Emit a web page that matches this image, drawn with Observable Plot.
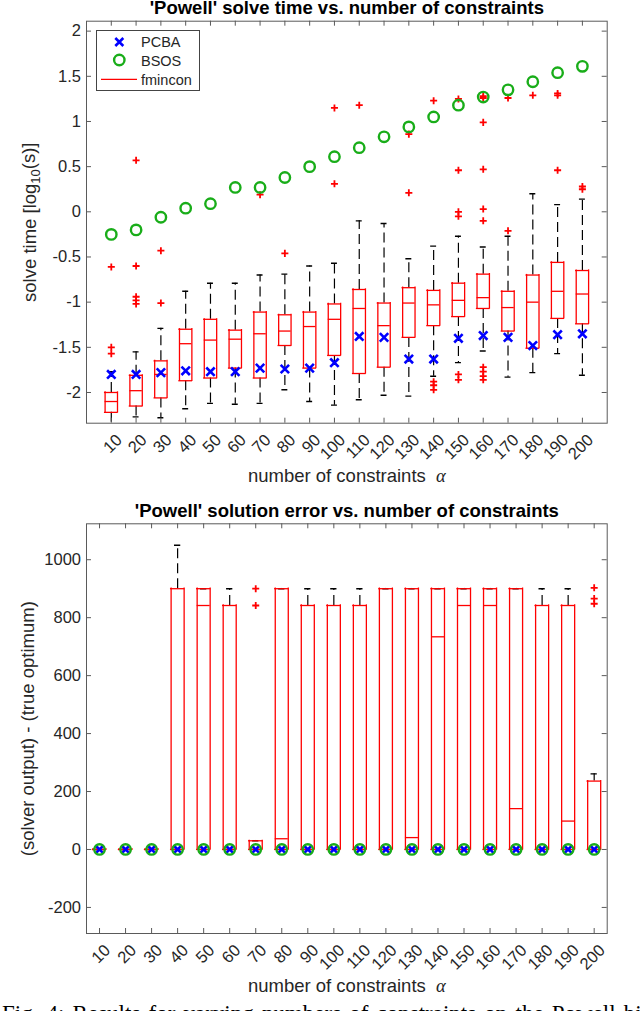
<!DOCTYPE html>
<html><head><meta charset="utf-8">
<script src="https://cdn.jsdelivr.net/npm/d3@7"></script>
<script src="https://cdn.jsdelivr.net/npm/@observablehq/plot@0.6"></script>
<style>
html,body{margin:0;padding:0;background:#fff;}
#page{position:relative;width:640px;height:1011px;overflow:hidden;font-family:"Liberation Sans",Arial,sans-serif;background:#fff;}
#page svg{display:block;}
#caption{position:absolute;left:2px;top:1002px;font-family:"Liberation Serif","Times New Roman",serif;font-size:23px;line-height:23px;white-space:nowrap;color:#000;word-spacing:2.4px;}
</style></head><body><div id="page"></div>
<script>
// ---------- shared categories ----------
const categories = [10,20,30,40,50,60,70,80,90,100,110,120,130,140,150,160,170,180,190,200];

// ---------- top chart: solve time [log10(s)] ----------
const timeLowWhisker  = [-2.40,-2.27,-2.28,-2.18,-2.12,-2.13,-2.12,-1.97,-2.10,-2.14,-2.08,-2.03,-2.04,-1.82,-1.67,-1.54,-1.83,-1.78,-1.57,-1.81];
const timeQ1          = [-2.22,-2.15,-2.06,-1.87,-1.84,-1.73,-1.84,-1.48,-1.73,-1.59,-1.79,-1.72,-1.39,-1.26,-1.16,-1.07,-1.32,-1.51,-1.18,-1.24];
const timeMedian      = [-2.10,-1.98,-1.80,-1.46,-1.42,-1.41,-1.35,-1.32,-1.27,-1.19,-1.07,-1.26,-1.01,-1.03,-0.98,-0.95,-1.06,-1.00,-0.88,-0.91];
const timeQ3          = [-2.00,-1.81,-1.65,-1.30,-1.19,-1.31,-1.11,-1.14,-1.11,-1.02,-0.86,-1.01,-0.84,-0.87,-0.79,-0.69,-0.88,-0.70,-0.56,-0.65];
const timeHighWhisker = [-1.77,-1.55,-1.29,-0.88,-0.79,-0.79,-0.70,-0.69,-0.60,-0.57,-0.10,-0.13,-0.52,-0.38,-0.27,-0.39,-0.27,0.20,0.08,0.14];
const timeOutliers = [
  [-0.61,-1.50,-1.57],
  [0.57,-0.60,-0.94,-0.98,-1.02],
  [-0.43,-1.01],
  [], [], [],
  [0.19],
  [-0.46],
  [],
  [1.15,0.31],
  [1.18],
  [],
  [0.86,0.21],
  [1.23,-1.88,-1.92,-1.97],
  [1.25,0.46,0.00,-0.05,-1.80,-1.86],
  [1.26,1.28,0.99,0.47,0.03,-0.10,-1.72,-1.77,-1.82,-1.86],
  [1.26,-0.21],
  [1.29],
  [1.31,1.29,0.46],
  [0.28,0.25]
];
const timePCBA = [-1.80,-1.80,-1.78,-1.76,-1.77,-1.77,-1.73,-1.74,-1.73,-1.67,-1.38,-1.39,-1.63,-1.63,-1.40,-1.37,-1.39,-1.48,-1.36,-1.35];
const timeBSOS = [-0.25,-0.20,-0.06,0.04,0.09,0.27,0.27,0.38,0.50,0.61,0.71,0.83,0.94,1.05,1.18,1.27,1.35,1.44,1.54,1.61];
const timeYTicks = [-2,-1.5,-1,-0.5,0,0.5,1,1.5,2];

// ---------- bottom chart: solution error ----------
const errLowWhisker  = [0,0,0,0,0,0,0,0,0,0,0,0,0,0,0,0,0,0,0,0];
const errQ1          = [0,0,0,0,0,0,0,0,0,0,0,0,0,0,0,0,0,0,0,0];
const errMedian      = [0,0,0,0,842,0,0,37,0,0,0,0,41,734,842,842,141,0,98,0];
const errQ3          = [0,0,0,900,900,842,30,900,842,842,842,900,900,900,900,900,900,842,842,236];
const errHighWhisker = [0,0,0,1050,900,900,30,900,900,900,900,900,900,900,900,900,900,900,900,261];
const errOutliers = [[],[],[],[],[],[],[900,842],[],[],[],[],[],[],[],[],[],[],[],[],[903,866,848]];
const errPCBA = [0,0,0,0,0,0,0,0,0,0,0,0,0,0,0,0,0,0,0,0];
const errBSOS = [0,0,0,0,0,0,0,0,0,0,0,0,0,0,0,0,0,0,0,0];
const errYTicks = [-200,0,200,400,600,800,1000];

// ---------- styling ----------
const W = 640, ML = 86, MR = 33.3;
const RED = "#ff0000", BLUE = "#0000ff", GREEN = "#19ad19", AX = "#5a5a5a", TXT = "#262626";
const BOX = 0.25, CAP = 0.12;

function chart(o) {
  const plotW = W - ML - MR, plotH = o.height - o.marginTop - o.marginBottom;
  const rows = categories.map((c, i) => ({pos: i + 1, cat: String(c), low: o.low[i], q1: o.q1[i], med: o.med[i], q3: o.q3[i], high: o.high[i], pcba: o.pcba[i], bsos: o.bsos[i]}));
  const outl = o.outliers.flatMap((arr, i) => arr.map(v => ({pos: i + 1, v})));
  const boxStyle = {stroke: RED, strokeWidth: 1.3, strokeLinecap: "square"};
  return Plot.plot({
    width: W, height: o.height,
    marginLeft: ML, marginRight: MR, marginTop: o.marginTop, marginBottom: o.marginBottom,
    x: {domain: o.xDomain, axis: null},
    y: {domain: o.yDomain, axis: null},
    style: {fontFamily: "Liberation Sans, Arial, sans-serif", background: "white", overflow: "visible"},
    marks: [
      Plot.ruleX(rows, {x: "pos", y1: "q3", y2: "high", stroke: "black", strokeWidth: 1.2, strokeDasharray: "10,5", clip: true}),
      Plot.ruleX(rows, {x: "pos", y1: "q1", y2: "low", stroke: "black", strokeWidth: 1.2, strokeDasharray: "10,5", clip: true}),
      Plot.ruleY(rows, {y: "high", x1: d => d.pos - CAP, x2: d => d.pos + CAP, stroke: "black", strokeWidth: 1.4, clip: true}),
      Plot.ruleY(rows, {y: "low", x1: d => d.pos - CAP, x2: d => d.pos + CAP, stroke: "black", strokeWidth: 1.4, clip: true}),
      Plot.ruleY(rows, {y: "q1", x1: d => d.pos - BOX, x2: d => d.pos + BOX, ...boxStyle}),
      Plot.ruleY(rows, {y: "q3", x1: d => d.pos - BOX, x2: d => d.pos + BOX, ...boxStyle}),
      Plot.ruleX(rows, {x: d => d.pos - BOX, y1: "q1", y2: "q3", ...boxStyle}),
      Plot.ruleX(rows, {x: d => d.pos + BOX, y1: "q1", y2: "q3", ...boxStyle}),
      Plot.ruleY(rows, {y: "med", x1: d => d.pos - BOX, x2: d => d.pos + BOX, stroke: RED, strokeWidth: 1.3}),
      Plot.dot(outl, {x: "pos", y: "v", symbol: "plus", r: 2.4, stroke: RED, strokeWidth: 1.8}),
      Plot.dot(rows, {x: "pos", y: "pcba", symbol: "times", r: 3.9, stroke: BLUE, strokeWidth: 2.6}),
      Plot.dot(rows, {x: "pos", y: "bsos", symbol: "circle", r: 5.2, fill: "none", stroke: GREEN, strokeWidth: 2.4}),
      Plot.frame({stroke: AX, strokeWidth: 1}),
      Plot.tickX(rows, {x: "pos", insetBottom: plotH - 5, stroke: AX}),
      Plot.tickX(rows, {x: "pos", insetTop: plotH - 5, stroke: AX}),
      Plot.tickY(o.yTicks, {y: d => d, insetRight: plotW - 5, stroke: AX}),
      Plot.tickY(o.yTicks, {y: d => d, insetLeft: plotW - 5, stroke: AX}),
      Plot.text(o.yTicks, {y: d => d, text: d => String(d), frameAnchor: "left", dx: -5.5, textAnchor: "end", lineAnchor: "middle", fontSize: 16.5, fill: TXT}),
      Plot.text(rows, {x: "pos", text: "cat", frameAnchor: "bottom", rotate: -45, textAnchor: "end", lineAnchor: "middle", dx: 8, dy: 14, fontSize: 16.5, fill: TXT}),
      Plot.text([o.title], {frameAnchor: "top", dy: o.titleDy, lineAnchor: "bottom", fontWeight: "bold", fontSize: 18.5, fill: "black"}),
      Plot.text([o.xlabel], {frameAnchor: "bottom", dy: 58.3, lineAnchor: "bottom", fontSize: 18.5, fill: TXT}),
      Plot.text([o.ylabel], {frameAnchor: "left", dx: o.ylabelDx, rotate: -90, textAnchor: "middle", lineAnchor: "middle", fontSize: 18.5, fill: TXT})
    ]
  });
}

const xlabel = "number of constraints  α";

const topChart = chart({
  height: 495, marginTop: 20.7, marginBottom: 72.3, xDomain: [0, 21], yDomain: [-2.34, 2.11],
  low: timeLowWhisker, q1: timeQ1, med: timeMedian, q3: timeQ3, high: timeHighWhisker,
  outliers: timeOutliers, pcba: timePCBA, bsos: timeBSOS, yTicks: timeYTicks,
  title: "'Powell' solve time vs. number of constraints", titleDy: -7.2,
  xlabel, ylabel: "solve time [log10(s)]", ylabelDx: -56
});
const bottomChart = chart({
  height: 505, marginTop: 28.3, marginBottom: 67, xDomain: [0.5, 20.5], yDomain: [-290, 1124],
  low: errLowWhisker, q1: errQ1, med: errMedian, q3: errQ3, high: errHighWhisker,
  outliers: errOutliers, pcba: errPCBA, bsos: errBSOS, yTicks: errYTicks,
  title: "'Powell' solution error vs. number of constraints", titleDy: -6.6,
  xlabel, ylabel: "(solver output) - (true optimum)", ylabelDx: -58
});

function richText(svg) {
  d3.select(svg).selectAll("text").each(function () {
    const t = this.textContent;
    if (t === "solve time [log10(s)]") {
      const s = d3.select(this); s.text("");
      s.append("tspan").text("solve time [log");
      s.append("tspan").attr("dy", "0.3em").attr("font-size", "13px").text("10");
      s.append("tspan").attr("dy", "-0.3em").text("(s)]");
    } else if (t === xlabel) {
      const s = d3.select(this); s.text("");
      s.append("tspan").text("number of constraints  ");
      s.append("tspan").attr("font-family", "Liberation Serif, Times New Roman, serif").attr("font-style", "italic").text("α");
    }
  });
}
richText(topChart); richText(bottomChart);

(function legend(svg) {
  const g = d3.select(svg).append("g").attr("text-anchor", "start");
  g.append("rect").attr("x", 96.5).attr("y", 30.5).attr("width", 103).attr("height", 60).attr("fill", "white").attr("stroke", "#444").attr("stroke-width", 1);
  const cx = 119.3;
  g.append("path").attr("transform", `translate(${cx},42)`).attr("d", "M-4,-4L4,4M-4,4L4,-4").attr("stroke", BLUE).attr("stroke-width", 2.6).attr("fill", "none");
  g.append("circle").attr("cx", cx).attr("cy", 60).attr("r", 5.2).attr("fill", "none").attr("stroke", GREEN).attr("stroke-width", 2.4);
  g.append("line").attr("x1", 101).attr("x2", 137).attr("y1", 79.3).attr("y2", 79.3).attr("stroke", RED).attr("stroke-width", 1.3);
  const labels = ["PCBA", "BSOS", "fmincon"], ys = [47.3, 65.7, 84.5];
  labels.forEach((l, i) => g.append("text").attr("x", 141).attr("y", ys[i]).attr("text-anchor", "start").attr("font-size", 14.5).attr("fill", TXT).text(l));
})(topChart);

const page = document.getElementById("page");
page.appendChild(topChart);
page.appendChild(bottomChart);
const cap = document.createElement("div");
cap.id = "caption";
cap.textContent = "Fig. 4: Results for varying numbers of constraints on the Powell bi";
page.appendChild(cap);
</script>
</body></html>
